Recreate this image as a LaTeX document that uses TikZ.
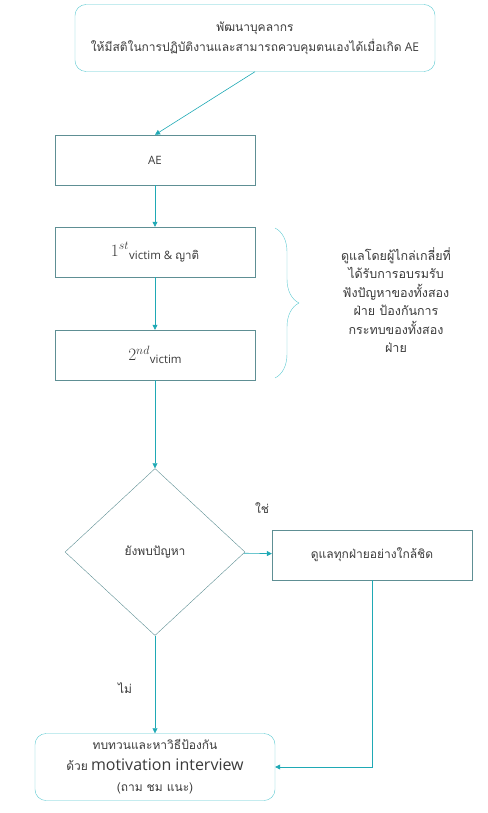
\documentclass[tikz,border=0pt]{standalone}
\usepackage{fontspec}
\setmainfont{Open Sans}
\newfontfamily\thaifont[Script=Thai]{Loma}
\usetikzlibrary{arrows.meta,positioning,shapes.geometric,decorations.pathreplacing}
\definecolor{boxline}{HTML}{5E8F94}
\definecolor{roundline}{HTML}{5CC9D1}
\definecolor{arrline}{HTML}{1FA9B5}
\definecolor{txt}{HTML}{3A3A3A}
\begin{document}
\begin{tikzpicture}[x=1pt,y=-1pt,every node/.style={text=txt},
box/.style={draw=boxline,minimum width=200pt,minimum height=50pt,align=center,font=\fontsize{11.5}{14}\selectfont},
rbox/.style={draw=roundline,rounded corners=11pt,align=center,font=\fontsize{12}{20}\selectfont},
arr/.style={-{Triangle[length=5pt,width=5pt]},arrline,semithick}]
\useasboundingbox (0,0) rectangle (487,813);
\node[rbox,minimum width=360pt,minimum height=67pt] (dev) at (255,38) {{\thaifont พัฒนาบุคลากร}\\{\thaifont ให้มีสติในการปฏิบัติงานและสามารถควบคุมตนเองได้เมื่อเกิด} AE};
\node[box] (ae) at (155,160) {AE};
\node[box] (first) at (155,252) {{\fontsize{17}{20}\selectfont$1^{st}$}\raisebox{-3pt}{victim \& {\thaifont ญาติ}}};
\node[box] (second) at (155,355) {{\fontsize{17}{20}\selectfont$2^{nd}$}\raisebox{-3pt}{victim}};
\node[draw=boxline,diamond,minimum width=180pt,minimum height=167pt,inner sep=0pt,font=\fontsize{12}{14}\selectfont] (found) at (155,552) {\thaifont ยังพบปัญหา};
\node[box,font=\fontsize{12}{14}\selectfont] (care) at (372,555) {\thaifont ดูแลทุกฝ่ายอย่างใกล้ชิด};
\node[rbox,minimum width=240pt,minimum height=67pt,font=\fontsize{12}{21}\selectfont] (review) at (155,767) {{\thaifont ทบทวนและหาวิธีป้องกัน}\\{\thaifont ด้วย} {\fontsize{16}{21}\selectfont motivation interview}\\{\thaifont (ถาม ชม แนะ)}};
% brace with note
\coordinate (bt) at (275,228);
\coordinate (bb) at (275,378);
\draw[roundline,decorate,decoration={brace,amplitude=24pt,aspect=0.5}] (bt) -- (bb);
\node[align=center,font=\thaifont\fontsize{12.5}{18.5}\selectfont] (note) at (396,300) {ดูแลโดยผู้ไกล่เกลี่ยที่\\ได้รับการอบรมรับ\\ฟังปัญหาของทั้งสอง\\ฝ่าย ป้องกันการ\\กระทบของทั้งสอง\\ฝ่าย};
% connectors
\draw[arr] (dev.south) -- (ae.north);
\draw[arr] (ae) -- (first);
\draw[arr] (first) -- (second);
\draw[arr] (second) -- (found);
\draw[arr] (found) -- (care);
\draw[arr] (found) -- (review);
\draw[arr] (care.south) |- (review.east);
\node[font=\thaifont\fontsize{12}{14}\selectfont] (yes) at (262,508) {ใช่};
\node[font=\thaifont\fontsize{12}{14}\selectfont] (no) at (125,688) {ไม่};
\end{tikzpicture}
\end{document}
